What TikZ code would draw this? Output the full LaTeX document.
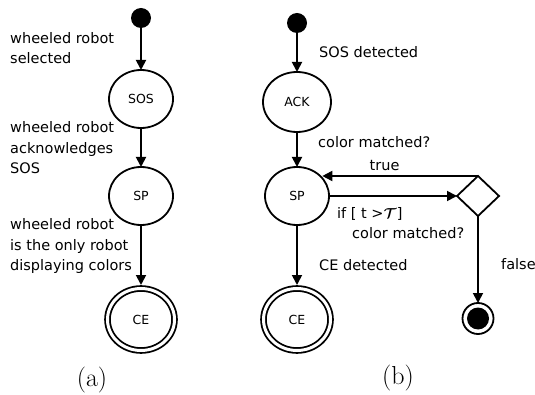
\documentclass[tikz,border=0pt]{standalone}
\usepackage{amsmath}
\usepackage{fontspec}
\newfontfamily\labelfont{DejaVu Sans}
\usepackage{tikz}
\usetikzlibrary{
	shapes.geometric,
	arrows.meta,
	positioning
}

\begin{document}
\begin{tikzpicture}[
				x=1pt, y=1pt,
				state/.style={
					ellipse, draw, line width=1.8pt,
					minimum width=64pt, minimum height=58pt,
					inner sep=0pt, outer sep=0pt,
					font=\labelfont\fontsize{12.5}{14}\selectfont
				},
				ackstate/.style={
					state, minimum width=68pt, minimum height=60pt
				},
				endstate/.style={
					state, double, double distance=3pt,
					minimum width=67pt, minimum height=62pt, outer sep=3.5pt
				},
				initdot/.style={
					circle, fill=black, minimum size=20pt,
					inner sep=0pt, outer sep=0pt
				},
				finaldot/.style={
					circle, draw, line width=1.8pt, minimum size=31pt,
					inner sep=0pt, outer sep=0pt,
					path picture={\fill (path picture bounding box.center) circle (11pt);}
				},
				choicebox/.style={
					diamond, draw, line width=1.8pt,
					minimum width=42pt, minimum height=40pt,
					inner sep=0pt, outer sep=0pt
				},
				note/.style={
					font=\labelfont\fontsize{14.5}{20.5}\selectfont,
					align=left, inner sep=0pt, anchor=west
				},
				caption/.style={font=\fontsize{26}{30}\selectfont, inner sep=0pt},
				arrow/.style={-{Triangle[length=10pt,width=10pt]}, line width=1.8pt}
				]
				\useasboundingbox (0,0) rectangle (535,-395);
				
				% (a) wheeled robot
				\node[initdot] (initA) at (141,-18) {};
				\node[state, below=42pt of initA] (sosA) {SOS};
				\node[state, below=39pt of sosA] (spA) {SP};
				\node[endstate, below=60pt of spA] (ceA) {CE};
				
				% (a) labels
				\node[note] (selectedA) at (10,-48) {wheeled robot\\selected};
				\node[note] (acknowA) at (10,-148) {wheeled robot\\acknowledges\\SOS};
				\node[note] (onlyA) at (10,-246) {wheeled robot\\is the only robot\\displaying colors};
				
				% (b) other robot
				\node[initdot] (initB) at (297,-23) {};
				\node[ackstate, below=39pt of initB] (ackB) {ACK};
				\node[state, below=35pt of ackB] (spB) {SP};
				\node[endstate, below=60pt of spB] (ceB) {CE};
				\node[choicebox, right=128pt of spB] (choice) {};
				\node[finaldot, below=87pt of choice] (stop) {};
				
				% (b) labels
				\node[note] (sosB) at (319,-52) {SOS detected};
				\node[note] (matchB) at (318,-142) {color matched?};
				\node[note] (ifB) at (337,-214) {if [ t >$\boldsymbol{\mathcal{T}}$]};
				\node[note] (rematchB) at (352,-233) {color matched?};
				\node[note] (ceLbl) at (319,-265) {CE detected};
				\node[note] (falseB) at (501,-264) {false};
				
				% captions
				\node[caption] (capA) at (92,-380) {(a)};
				\node[caption] (capB) at (398,-378) {(b)};
				
				% arrows (a)
				\draw[arrow] (initA) -- (sosA);
				\draw[arrow] (sosA)  -- (spA);
				\draw[arrow] (spA)   -- (ceA);
				
				% arrows (b)
				\draw[arrow] (initB) -- (ackB);
				\draw[arrow] (ackB)  -- (spB);
				\draw[arrow] (spB)   -- (ceB);
				\draw[arrow] (spB.east) -- (choice.west);
				\draw[arrow] (choice.north) -- node[note, anchor=south, pos=0.6, above=4pt] (trueB) {true} (choice.north -| spB.35);
				\draw[arrow] (choice.south) -- (stop.north);
			\end{tikzpicture}
\end{document}
